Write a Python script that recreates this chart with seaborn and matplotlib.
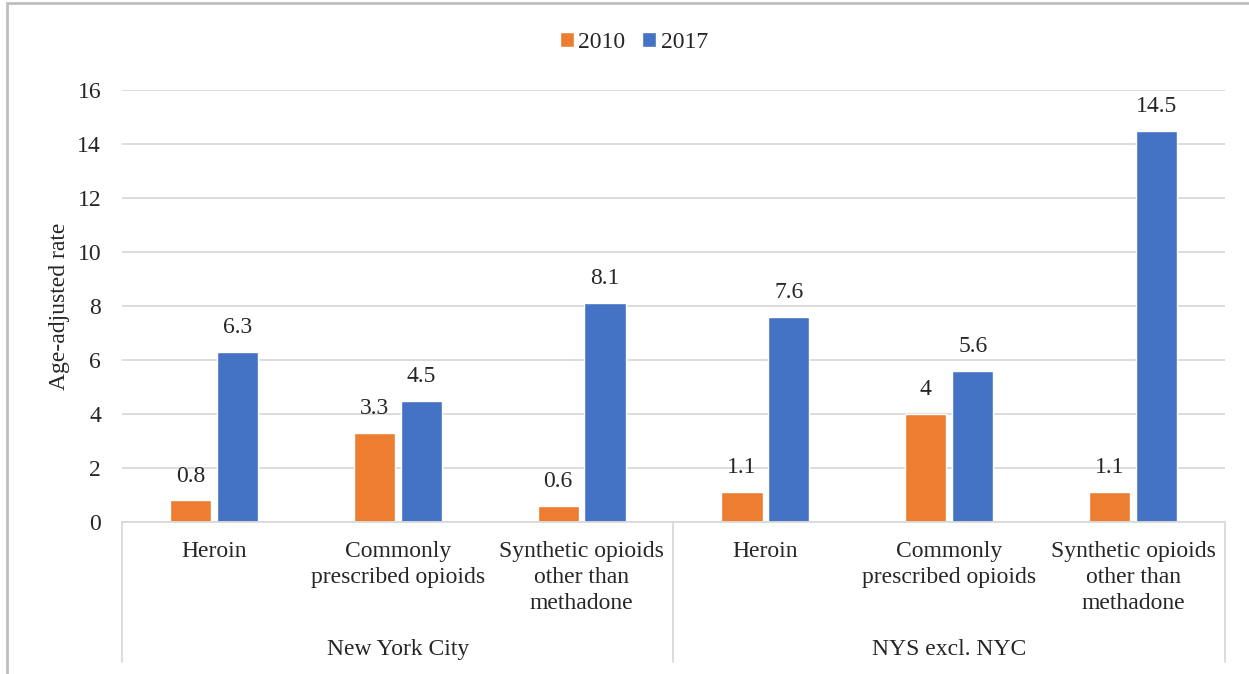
import pandas as pd
import matplotlib.pyplot as plt
import matplotlib.transforms as mtransforms
from matplotlib.patches import Rectangle
import seaborn as sns

# Data
regions = ["New York City", "NYS excl. NYC"]
drugs = ["Heroin", "Commonly\nprescribed opioids", "Synthetic opioids\nother than\nmethadone"]
years = ["2010", "2017"]
rate_2010 = [0.8, 3.3, 0.6, 1.1, 4, 1.1]
rate_2017 = [6.3, 4.5, 8.1, 7.6, 5.6, 14.5]

categories = [f"{r}|{d}" for r in regions for d in drugs]
df = pd.DataFrame({
    "category": categories * 2,
    "year": [years[0]] * 6 + [years[1]] * 6,
    "rate": rate_2010 + rate_2017,
})

sns.set_style("white")
plt.rcParams["font.family"] = ["Liberation Serif", "DejaVu Serif"]
FS = 17

fig = plt.figure(figsize=(12.49, 6.74), dpi=100)
ax = fig.add_axes([122 / 1249, 1 - 522 / 674, 1103 / 1249, 432 / 674])

palette = {"2010": "#ED7D31", "2017": "#4472C4"}
sns.barplot(data=df, x="category", y="rate", hue="year", order=categories,
            hue_order=years, palette=palette, width=0.51, gap=0.12,
            saturation=1, ax=ax, legend=True)

for cont, vals in zip(ax.containers, [rate_2010, rate_2017]):
    ax.bar_label(cont, labels=[f"{v:g}" for v in vals], padding=10, fontsize=FS)

ax.set_ylim(0, 16)
ax.set_yticks(range(0, 17, 2))
ax.set_xlim(-0.5, 5.5)
ax.yaxis.grid(True, color="#d9d9d9", linewidth=1.3)
ax.set_axisbelow(True)
for s in ["top", "right", "left"]:
    ax.spines[s].set_visible(False)
ax.spines["bottom"].set_color("#d9d9d9")
ax.spines["bottom"].set_linewidth(1.3)

ax.set_xticks(range(6))
ax.set_xticklabels(drugs * 2, fontsize=FS, linespacing=1.3, va="top")
ax.tick_params(axis="x", length=0, pad=14)
ax.tick_params(axis="y", length=0, pad=15, labelsize=FS)
ax.set_xlabel("")
ax.set_ylabel("Age-adjusted rate", fontsize=FS, labelpad=5)

# second level of the category axis
trans = mtransforms.blended_transform_factory(ax.transData, ax.transAxes)
for i, r in enumerate(regions):
    ax.text(i * 3 + 1, -0.295, r, transform=trans, ha="center", va="center", fontsize=FS)
for x in [-0.5, 2.5, 5.5]:
    ax.plot([x, x], [0, -0.325], transform=trans, color="#d9d9d9",
            linewidth=1.3, clip_on=False)

handles, labels = ax.get_legend_handles_labels()
ax.legend(handles, labels, loc="center", bbox_to_anchor=(0.464, 1 + 48 / 432),
          ncol=2, frameon=False, fontsize=FS, handlelength=0.6, handleheight=0.6,
          handletextpad=0.2, columnspacing=0.7)

# outer chart frame
fig.patches.append(Rectangle((7 / 1249, -0.1), 1.2, 1 - 3 / 674 + 0.1,
                             transform=fig.transFigure, fill=False,
                             edgecolor="#bfbfbf", linewidth=2))

fig.savefig("out.png", dpi=100)
